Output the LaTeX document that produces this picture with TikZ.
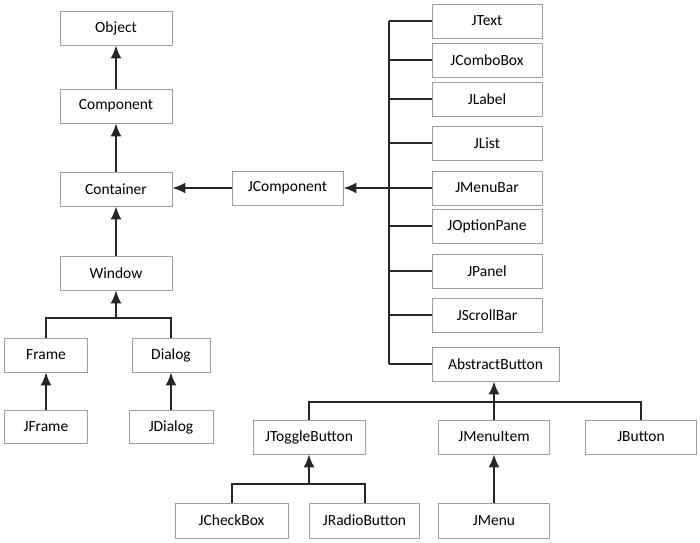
\documentclass[tikz,border=0pt]{standalone}
\usepackage{fontspec}
\setmainfont{Carlito}
\usepackage{tikz}
\usetikzlibrary{arrows.meta, positioning}

\begin{document}
\begin{tikzpicture}[x=1pt, y=-1pt,
        cls/.style={draw=gray!75, line width=0.8pt, minimum width=111pt, minimum height=34pt,
                    inner sep=0pt, font=\fontsize{15.5}{18}\selectfont},
        link/.style={line width=2pt, black!85},
        arr/.style={link, -{Latex[length=13pt, width=11pt]}}]
        \useasboundingbox (0,0) rectangle (700,542);

        % 左侧继承链
        \node[cls, minimum width=112pt] (Object)    at (116,28)  {Object};
        \node[cls, minimum width=112pt] (Component) at (116,106) {Component};
        \node[cls, minimum width=112pt] (Container) at (116,189) {Container};
        \node[cls, minimum width=112pt] (Window)    at (116,273) {Window};
        \node[cls] (JComponent) at (287.5,188) {JComponent};

        \draw[arr] (Component) -- (Object);
        \draw[arr] (Container) -- (Component);
        \draw[arr] (Window) -- (Container);
        \draw[arr] (JComponent.west) -- (JComponent.west -| Container.east);

        % 窗口类
        \node[cls, minimum width=83pt] (Frame)   at (46,355)  {Frame};
        \node[cls, minimum width=78pt] (Dialog)  at (171,355) {Dialog};
        \node[cls, minimum width=83pt, minimum height=33pt] (JFrame)  at (46,427)  {JFrame};
        \node[cls, minimum width=84pt, minimum height=33pt] (JDialog) at (171,427) {JDialog};

        \coordinate (winjoin) at (116,318);
        \draw[link] (Frame.north) |- (winjoin) -| (Dialog.north);
        \draw[arr] (winjoin) -- (Window.south);
        \draw[arr] (JFrame) -- (Frame);
        \draw[arr] (JDialog) -- (Dialog);

        % 右侧 JComponent 的子类
        \node[cls, minimum width=110pt] (JText)       at (487,21)  {JText};
        \node[cls, minimum width=110pt] (JComboBox)   at (487,60)  {JComboBox};
        \node[cls, minimum width=110pt] (JLabel)      at (487,99)  {JLabel};
        \node[cls, minimum width=110pt] (JList)       at (487,143) {JList};
        \node[cls, minimum width=110pt] (JMenuBar)    at (487,188) {JMenuBar};
        \node[cls, minimum width=110pt] (JOptionPane) at (487,226) {JOptionPane};
        \node[cls, minimum width=110pt] (JPanel)      at (487,271) {JPanel};
        \node[cls, minimum width=110pt] (JScrollBar)  at (487,315) {JScrollBar};
        \node[cls, minimum width=127pt] (AbstractButton) at (495.5,364) {AbstractButton};

        \coordinate (trunk) at (389,0);
        \foreach \sub in {JText,JComboBox,JLabel,JList,JMenuBar,JOptionPane,JPanel,JScrollBar,AbstractButton} {
            \draw[link] (\sub.west) -- (\sub.west -| trunk);
        }
        \draw[link] (JText.west -| trunk) -- (AbstractButton.west -| trunk);
        \draw[arr] (JMenuBar.west -| trunk) -- (JComponent.east);

        % 按钮类
        \node[cls, minimum width=112pt] (JToggleButton) at (309,437) {JToggleButton};
        \node[cls] (JMenuItem)    at (494,437) {JMenuItem};
        \node[cls] (JButton)      at (641,437) {JButton};
        \node[cls, minimum width=113pt, minimum height=35pt] (JCheckBox)    at (231.5,520.5) {JCheckBox};
        \node[cls, minimum width=110pt, minimum height=35pt] (JRadioButton) at (364.5,520.5) {JRadioButton};
        \node[cls, minimum height=35pt] (JMenu) at (494,520.5) {JMenu};

        \coordinate (btnjoin) at (494,402);
        \draw[link] (JToggleButton.north) |- (btnjoin) -| (JButton.north);
        \draw[link] (JMenuItem.north) -- (btnjoin);
        \draw[arr] (btnjoin) -- (btnjoin |- AbstractButton.south);

        \coordinate (togjoin) at (309,484);
        \draw[link] (JCheckBox.north) |- (togjoin) -| (JRadioButton.north);
        \draw[arr] (togjoin) -- (JToggleButton.south);
        \draw[arr] (JMenu) -- (JMenuItem);
    \end{tikzpicture}
\end{document}
